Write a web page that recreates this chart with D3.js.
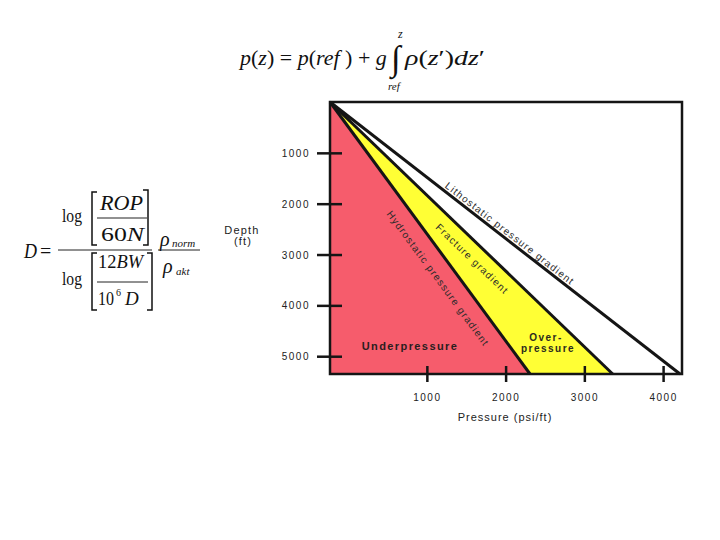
<!DOCTYPE html>
<html>
<head>
<meta charset="utf-8">
<script src="https://cdn.jsdelivr.net/npm/d3@7"></script>
<style>
body{margin:0;background:#fff;}
text{font-family:"Liberation Sans",Arial,sans-serif;white-space:pre;}
text.math{font-family:"Liberation Serif","Times New Roman",serif;}
</style>
</head>
<body>
<div class="boundary"></div>
<script>
// values
var depthTicks = [1000, 2000, 3000, 4000, 5000];
var pressureTicks = [1000, 2000, 3000, 4000];
var depthRange = [0, 5350];
var pressureRange = [-230, 4240];
var gradientNames = ["Hydrostatic pressure gradient", "Fracture gradient", "Lithostatic pressure gradient"];
var surfacePressure = [-230, -230, -230];
var bottomPressure = [2310, 3360, 4215];
var labelDepth = [1956, 2223, 1720];

var width = 720, height = 540;
var svg = d3.select(".boundary").append("svg")
  .attr("width", width).attr("height", height)
  .style("display", "block").style("background", "#fff");

var x = d3.scaleLinear().domain(pressureRange).range([330, 682]);
var y = d3.scaleLinear().domain(depthRange).range([102, 374]);
var line = d3.line().x(function(d){ return x(d[0]); }).y(function(d){ return y(d[1]); });

var grads = gradientNames.map(function(name, i){
  return {name: name, top: surfacePressure[i], bottom: bottomPressure[i], labelDepth: labelDepth[i]};
});
var d0 = depthRange[0], d1 = depthRange[1];

// filled zones
svg.append("path").attr("fill", "#f65c6c")
  .attr("d", line([[grads[0].top, d0], [grads[0].bottom, d1], [pressureRange[0], d1]]) + "Z");
svg.append("path").attr("fill", "#ffff35")
  .attr("d", line([[grads[1].top, d0], [grads[1].bottom, d1], [grads[0].bottom, d1], [grads[0].top, d0]]) + "Z");

// gradient lines
svg.append("g").selectAll("path").data(grads).enter().append("path")
  .attr("d", function(g){ return line([[g.top, d0], [g.bottom, d1]]); })
  .attr("stroke", "#151515").attr("stroke-width", 3).attr("fill", "none");

// frame
svg.append("rect")
  .attr("x", x(pressureRange[0])).attr("y", y(d0))
  .attr("width", x(pressureRange[1]) - x(pressureRange[0]))
  .attr("height", y(d1) - y(d0))
  .attr("fill", "none").attr("stroke", "#151515").attr("stroke-width", 2.5);

// axes
var yAxis = svg.append("g").attr("transform", "translate(" + x(pressureRange[0]) + ",0)")
  .call(d3.axisLeft(y).tickValues(depthTicks).tickSize(13).tickPadding(7).tickFormat(d3.format("d")));
yAxis.select(".domain").remove();
yAxis.selectAll(".tick line").attr("x1", 12).attr("stroke", "#151515").attr("stroke-width", 2.5);
yAxis.selectAll(".tick text").attr("dy", "0.35em").style("font-size", "10px")
  .style("letter-spacing", "1.5px").attr("fill", "#222").style("font-family", "Liberation Sans");

var xAxis = svg.append("g").attr("transform", "translate(0," + y(d1) + ")")
  .call(d3.axisBottom(x).tickValues(pressureTicks).tickSize(8).tickFormat(d3.format("d")));
xAxis.select(".domain").remove();
xAxis.selectAll(".tick line").attr("y1", -8).attr("stroke", "#151515").attr("stroke-width", 2.5);
xAxis.selectAll(".tick text").attr("y", 27).attr("dy", null).style("font-size", "10px")
  .style("letter-spacing", "1.5px").attr("fill", "#222").style("font-family", "Liberation Sans");

svg.append("text").attr("x", 505).attr("y", 421).attr("text-anchor", "middle")
  .style("font-size", "11px").style("letter-spacing", "1px").attr("fill", "#222")
  .text("Pressure (psi/ft)");
svg.append("text").attr("x", 242).attr("y", 234).attr("text-anchor", "middle")
  .style("font-size", "11px").style("letter-spacing", "1.2px").attr("fill", "#222").text("Depth");
svg.append("text").attr("x", 243).attr("y", 245).attr("text-anchor", "middle")
  .style("font-size", "11px").style("letter-spacing", "1.2px").attr("fill", "#222").text("(ft)");

// labels along the gradient lines
var labelOffset = [21, 18, -3];
svg.append("g").selectAll("text").data(grads).enter().append("text")
  .attr("transform", function(g){
    var p = g.top + (g.bottom - g.top) * (g.labelDepth - d0) / (d1 - d0);
    var ang = Math.atan2(y(d1) - y(d0), x(g.bottom) - x(g.top)) * 180 / Math.PI;
    return "translate(" + x(p) + "," + y(g.labelDepth) + ") rotate(" + ang + ")";
  })
  .attr("y", function(g, i){ return labelOffset[i]; })
  .style("font-size", "10px").style("letter-spacing", "1.2px").attr("fill", "#2a2a2a")
  .text(function(g){ return g.name; });

// zone names
svg.append("text").attr("x", 410).attr("y", 350).attr("text-anchor", "middle")
  .style("font-size", "11px").style("font-weight", "bold").style("letter-spacing", "1.4px")
  .attr("fill", "#2a1e1e").text("Underpressure");
svg.append("text").attr("x", 546).attr("y", 341).attr("text-anchor", "middle")
  .style("font-size", "10px").style("font-weight", "bold").style("letter-spacing", "1.5px")
  .attr("fill", "#2a2a1e").text("Over-");
svg.append("text").attr("x", 548).attr("y", 352).attr("text-anchor", "middle")
  .style("font-size", "10px").style("font-weight", "bold").style("letter-spacing", "1.5px")
  .attr("fill", "#2a2a1e").text("pressure");

// formulas
function mathText(px, py, size, parts, len){
  var t = svg.append("text").attr("class", "math").attr("x", px).attr("y", py)
    .style("font-size", size + "px").attr("fill", "#111");
  parts.forEach(function(s){
    t.append("tspan").text(s[0]).style("font-style", s[1] ? "italic" : "normal");
  });
  if (len) t.attr("textLength", len).attr("lengthAdjust", "spacingAndGlyphs");
  return t;
}

mathText(240, 65, 22, [["p",1],["(",0],["z",1],[")",0],[" = ",0],["p",1],["(",0],["ref",1],[" )",0],[" + ",0],["g",1]]);
mathText(391, 70, 35, [["\u222B",0]]);
mathText(398, 38, 12, [["z",1]]);
mathText(388, 90, 11, [["ref",1]]);
mathText(405, 65, 22, [["\u03C1",1],["(",0],["z",1],["\u2032",0],[")",0],["d",1],["z",1],["\u2032",0]], 80);

mathText(24, 258, 20, [["D",1]], 13);
mathText(40, 258, 20, [["=",0]]);
mathText(62, 222, 19, [["log",0]], 20);
mathText(62, 285, 19, [["log",0]], 20);
mathText(100, 210, 20, [["ROP",1]], 43);
mathText(101, 241, 19, [["60",0],["N",1]], 43);
mathText(98, 268, 19, [["12",0],["BW",1]], 45);
mathText(98, 305, 19, [["10",0]], 16);
mathText(116, 296, 10, [["6",0]]);
mathText(125, 305, 19, [["D",1]]);
mathText(160, 246, 20, [["\u03C1",1]]);
mathText(172, 247, 11, [["norm",1]]);
mathText(163, 273, 20, [["\u03C1",1]]);
mathText(176, 275, 11, [["akt",1]]);

var rules = [[58, 152, 250], [158, 200, 250], [97, 147, 218], [97, 148, 282]];
svg.append("g").selectAll("line").data(rules).enter().append("line")
  .attr("x1", function(r){ return r[0]; }).attr("x2", function(r){ return r[1]; })
  .attr("y1", function(r){ return r[2]; }).attr("y2", function(r){ return r[2]; })
  .attr("stroke", "#222").attr("stroke-width", 1);

var brackets = [[92, 192, 245, 1], [148, 190, 245, -1], [92, 253, 310, 1], [152, 253, 310, -1]];
svg.append("g").selectAll("path").data(brackets).enter().append("path")
  .attr("d", function(b){ return "M" + (b[0] + 5 * b[3]) + "," + b[1] + "H" + b[0] + "V" + b[2] + "H" + (b[0] + 5 * b[3]); })
  .attr("fill", "none").attr("stroke", "#111").attr("stroke-width", 1.5);
</script>
</body>
</html>
